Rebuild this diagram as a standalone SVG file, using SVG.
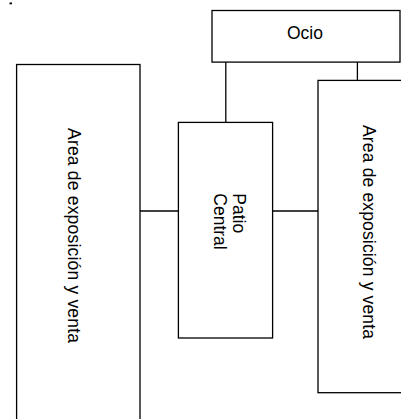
<svg xmlns="http://www.w3.org/2000/svg" width="401" height="419" viewBox="0 0 401 419">
<style>
.box{fill:#fff;stroke:#000;stroke-width:1.3}
.ln{stroke:#000;stroke-width:1.3;fill:none}
.t{font-family:"Liberation Sans",Arial,sans-serif;font-size:17.5px;fill:#000}
</style>
<rect x="0" y="0" width="401" height="419" fill="#fff"/>
<rect x="9.5" y="2.5" width="2.5" height="1.8" fill="#000"/>
<g id="connectors">
<line class="ln" x1="225.8" y1="62" x2="225.8" y2="122.5"/>
<line class="ln" x1="357.4" y1="62" x2="357.4" y2="80.5"/>
<line class="ln" x1="140" y1="211" x2="178.5" y2="211"/>
<line class="ln" x1="272.6" y1="211" x2="318" y2="211"/>
</g>
<g id="ocio">
<rect class="box" x="212" y="10.5" width="188" height="51.6"/>
<text class="t" x="305" y="39.3" text-anchor="middle">Ocio</text>
</g>
<g id="area-izq">
<rect class="box" x="16.6" y="64.5" width="123.4" height="370"/>
<text class="t" transform="translate(68,235.5) rotate(90)" text-anchor="middle" textLength="215" lengthAdjust="spacing">Area de exposición y venta</text>
</g>
<g id="patio">
<rect class="box" x="178.4" y="122.4" width="94.2" height="215.6"/>
<text class="t" transform="translate(233.3,193.3) rotate(90)">Patio</text>
<text class="t" transform="translate(213.5,193.3) rotate(90)">Central</text>
</g>
<g id="area-der">
<rect class="box" x="318" y="80.4" width="110" height="312.3"/>
<text class="t" transform="translate(363,232) rotate(90)" text-anchor="middle" textLength="214" lengthAdjust="spacing">Area de exposición y venta</text>
</g>
</svg>
